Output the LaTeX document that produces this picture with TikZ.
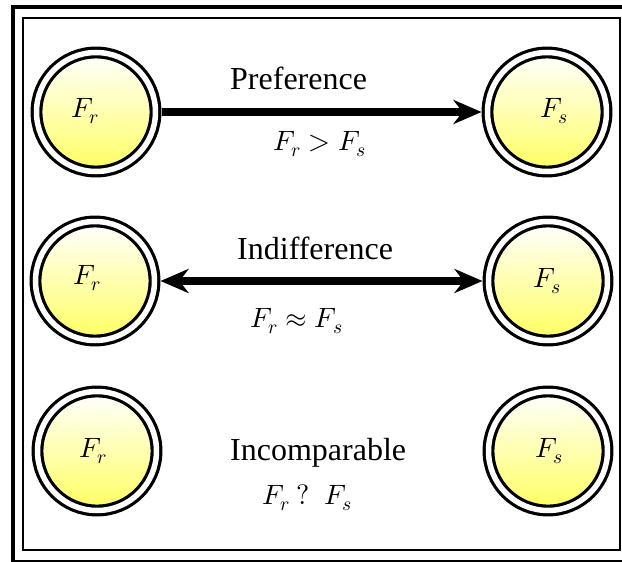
\documentclass[tikz,border=0pt]{standalone}
\usepackage{fontspec}
\usepackage{unicode-math}
\setmainfont{Liberation Serif}
\setmathfont{Latin Modern Math}
\usetikzlibrary{arrows.meta}
\definecolor{nodeyellow}{RGB}{255,255,95}
\tikzset{
  state/.style={circle, minimum size=119pt, inner sep=0pt, outer sep=6pt,
    draw=black, line width=3.2pt, double=white, double distance=5.5pt,
    top color=white, bottom color=nodeyellow},
  lbl/.style={anchor=base west, inner sep=0pt, font=\fontsize{32}{38}\selectfont},
  mlbl/.style={anchor=base west, inner sep=0pt, font=\fontsize{28}{33}\selectfont},
  rel/.style={line width=8pt},
  reltip/.tip={Stealth[length=28pt,width=24pt,inset=9pt]}
}
\begin{document}
\begin{tikzpicture}[x=1pt,y=1pt]
\useasboundingbox (0,0) rectangle (622,-562);
\draw[line width=4pt] (13,-7) rectangle (632,-562);
\draw[line width=2.5pt] (23,-18) rectangle (620,-550);
% nodes
\node[state] (r1) at (96,-112) {};
\node[state] (s1) at (547,-112) {};
\node[state] (r2) at (95,-281) {};
\node[state] (s2) at (548,-281) {};
\node[state] (r3) at (97,-451) {};
\node[state] (s3) at (548,-451) {};
% node texts
\node[mlbl] (tr1) at (71,-117) {$F_r$};
\node[mlbl] (ts1) at (540,-117) {$F_s$};
\node[mlbl] (tr2) at (73,-284) {$F_r$};
\node[mlbl] (ts2) at (533,-287) {$F_s$};
\node[mlbl] (tr3) at (79,-457) {$F_r$};
\node[mlbl] (ts3) at (535,-457) {$F_s$};
% arrows
\draw[rel, -reltip] (r1) -- (s1);
\draw[rel, reltip-reltip] (r2) -- (s2);
% labels
\node[lbl] (p) at (230,-89) {Preference};
\node[mlbl] (pm) at (273,-150) {$F_r > F_s$};
\node[lbl] (i) at (237,-259) {Indifference};
\node[mlbl] (im) at (250,-327) {$F_r \approx F_s$};
\node[lbl] (c) at (230,-460) {Incomparable};
\node[mlbl] (cm) at (262,-504) {$F_r\ ?\ \ F_s$};
\end{tikzpicture}
\end{document}
